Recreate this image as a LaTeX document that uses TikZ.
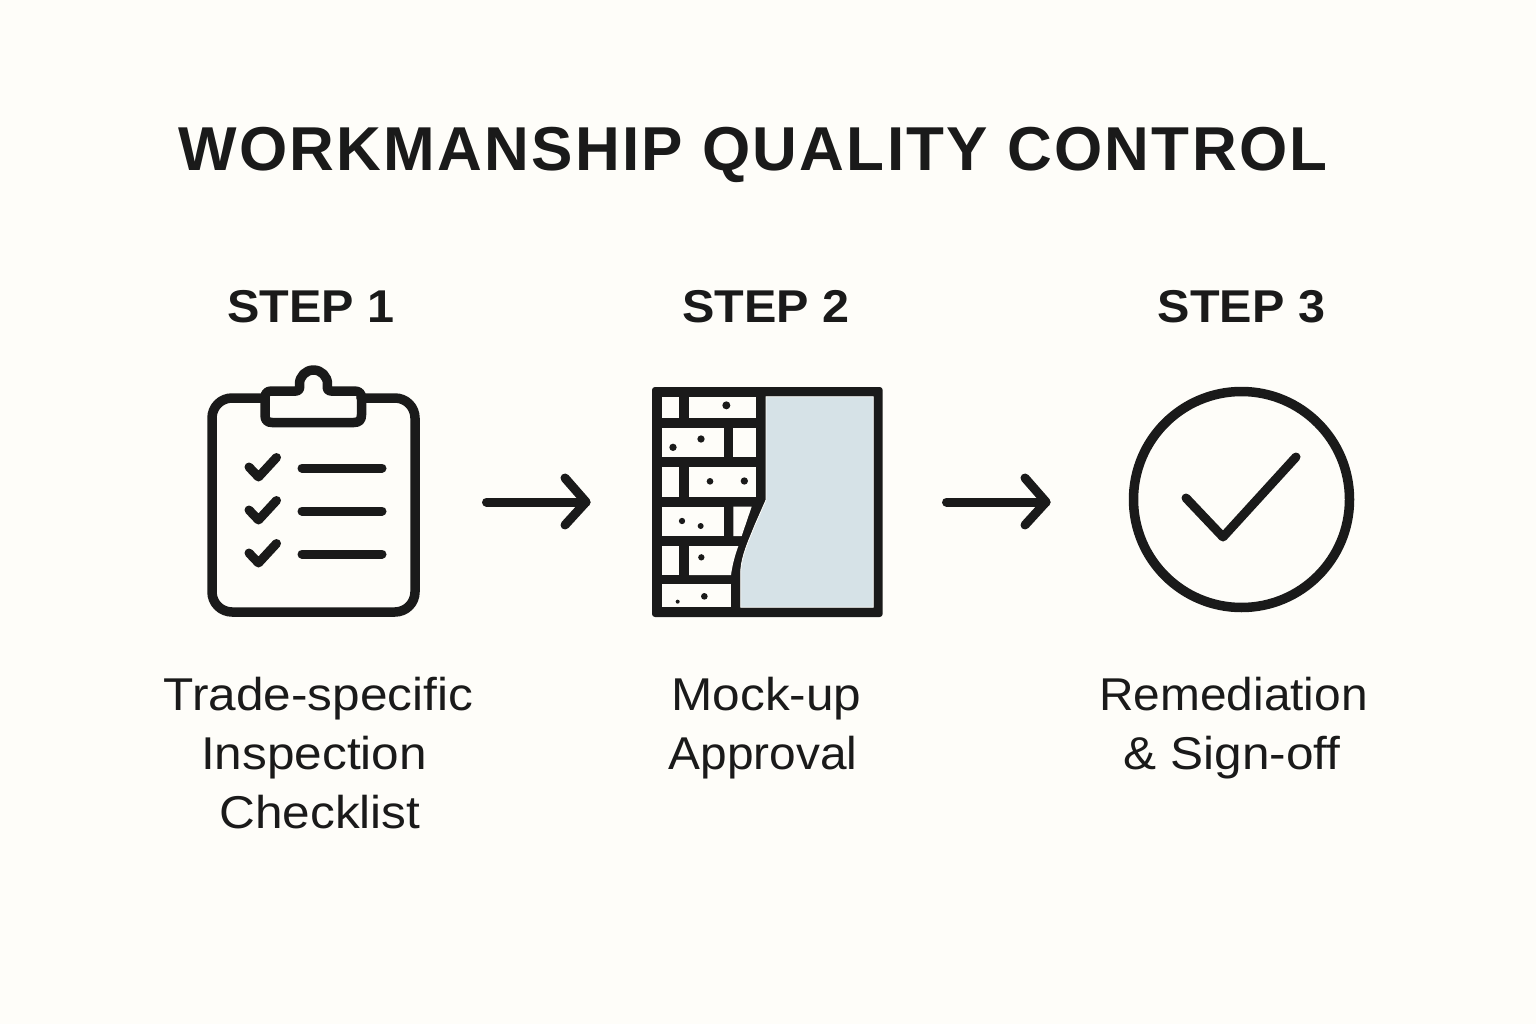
\documentclass[tikz,border=0pt]{standalone}
\usepackage{fontspec}
\setmainfont{Liberation Sans}
\newfontfamily\titlefont[LetterSpace=3.6]{Liberation Sans}
\newfontfamily\stepfont[FakeStretch=1.055]{Liberation Sans}
\newfontfamily\descfont[FakeStretch=1.077]{Liberation Sans}
\newfontfamily\descnarrow[FakeStretch=1.04]{Liberation Sans}
\definecolor{bgc}{HTML}{FEFDF9}
\definecolor{ink}{HTML}{1A1A1A}
\definecolor{plaster}{HTML}{D6E2E7}
\tikzset{
  iconline/.style={draw=ink,line width=#1,line cap=round,line join=round},
  titletext/.style={text=ink,anchor=base,inner sep=0pt,font=\titlefont\bfseries\fontsize{62}{62}\selectfont},
  steptext/.style={text=ink,anchor=base,inner sep=0pt,font=\stepfont\bfseries\fontsize{46}{46}\selectfont},
  desctext/.style={text=ink,anchor=base,inner sep=0pt,font=\descfont\fontsize{46}{46}\selectfont},
  descnarrowtext/.style={text=ink,anchor=base,inner sep=0pt,font=\descnarrow\fontsize{46}{46}\selectfont},
  flow/.style={draw=ink,line width=9pt,line cap=round,line join=round},
  brick/.style={fill=bgc,draw=none},
  mortardot/.style={fill=ink,draw=none},
}
\begin{document}
\begin{tikzpicture}[x=1pt,y=-1pt]
\useasboundingbox (0,0) rectangle (1536,1024);
\fill[bgc] (0,0) rectangle (1536,1024);
% texts
\node[titletext] (title) at (753,171) {WORKMANSHIP QUALITY CONTROL};
\node[steptext] (s1) at (311,322) {STEP 1};
\node[steptext] (s2) at (766,322) {STEP 2};
\node[steptext] (s3) at (1241.5,322) {STEP 3};
\node[desctext] (d1a) at (318.5,710) {Trade-specific};
\node[desctext] (d1b) at (314,769) {Inspection};
\node[desctext] (d1c) at (320,828) {Checklist};
\node[desctext] (d2a) at (766.5,710) {Mock-up};
\node[descnarrowtext] (d2b) at (763,769) {Approval};
\node[descnarrowtext] (d3a) at (1233.5,710) {Remediation};
\node[desctext] (d3b) at (1232,769) {\& Sign-off};
% clipboard
\draw[iconline=9.5pt,rounded corners=20pt] (265,398) -- (212,398) -- (212,612) -- (415,612) -- (415,398) -- (361,398);
\draw[iconline=9.5pt] (272,391) -- (296,391) .. controls (300,391) and (300,387) .. (299.5,384)
  arc[start angle=180,end angle=360,radius=14] .. controls (327,388) and (327,391) .. (331,391) -- (354,391)
  .. controls (359,391) and (361.5,393) .. (361.5,398) -- (361.5,415) .. controls (361.5,420) and (359,422.5) .. (354,422.5)
  -- (272,422.5) .. controls (267,422.5) and (265,420) .. (265,415) -- (265,398) .. controls (265,393) and (267,391) .. (272,391) -- cycle;
\foreach \yy in {0,43,86}{
  \draw[iconline=9pt] (249,467+\yy) -- (258.5,477+\yy) -- (276.5,457.5+\yy);
  \draw[iconline=9pt] (302,468+\yy) -- (382,468+\yy);
}
% wall
\begin{scope}[shift={(640,375)},x=0.33333pt,y=-0.33333pt]
\fill[ink,rounded corners=3pt] (36,36) rectangle (728,726);
\foreach \a/\b/\c/\d in {65/65/117/130,147/65/348/130,65/160/252/245,280/160/348/245,65/275/117/365,147/275/348/365,65/395/252/483,65/513/117/600,65/628/272/697}
  \fill[brick] (\a,\b) rectangle (\c,\d);
\fill[brick] (280,395) -- (335,395) -- (305,483) -- (280,483) -- cycle;
\fill[brick] (147,513) -- (295,513) .. controls (285,540) and (277,570) .. (273,600) -- (147,600) -- cycle;
\fill[plaster,draw=bgc,line width=0.8pt] (378,65) -- (700,65) -- (700,697) -- (302,697) -- (302,590) .. controls (305,540) and (325,500) .. (345,450) -- (378,375) -- cycle;
\foreach \a/\b/\r in {259/91/12,183/192/11,99/217/11,210/319/10,313/318/11,126/438/9.5,182/453/9,184/547/9.5,193/664/10,113/680/6}
  \fill[mortardot] (\a,\b) circle[radius=\r];
\end{scope}
% check circle
\draw[iconline=9.5pt] (1241.5,499.5) circle[radius=108];
\draw[iconline=9pt] (1186,498) -- (1223,537) -- (1296,457);
% arrows
\coordinate (a1s) at (486.5,502);
\coordinate (a1e) at (586,502);
\coordinate (a1u) at (565,478);
\coordinate (a1d) at (565,525);
\coordinate (a2s) at (946.5,502);
\coordinate (a2e) at (1046,502);
\coordinate (a2u) at (1025,478);
\coordinate (a2d) at (1025,525);
\draw[flow] (a1s) -- (a1e);
\draw[flow] (a1u) -- (a1e) -- (a1d);
\draw[flow] (a2s) -- (a2e);
\draw[flow] (a2u) -- (a2e) -- (a2d);
\end{tikzpicture}
\end{document}
